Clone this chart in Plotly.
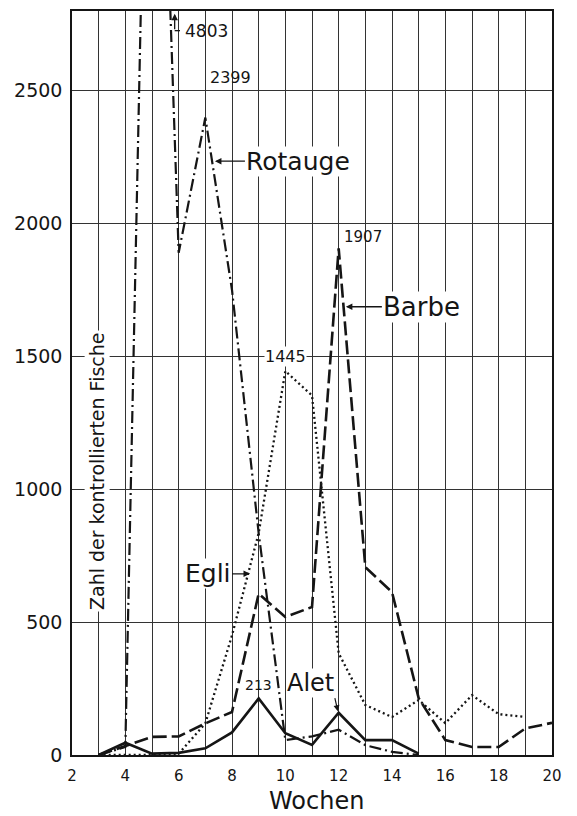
import plotly.graph_objects as go

# ---------------- data ----------------
rotauge_weeks = [3, 4, 5, 6, 7, 8, 9, 10, 11, 12, 13, 14, 15]
rotauge = [0, 30, 4803, 1890, 2399, 1750, 835, 56, 70, 95, 37, 12, 0]

barbe_weeks = [3, 4, 5, 6, 7, 8, 9, 10, 11, 12, 13, 14, 15, 16, 17, 18, 19, 20]
barbe = [0, 35, 68, 70, 119, 162, 607, 519, 557, 1907, 707, 613, 214, 56, 30, 30, 100, 121]

egli_weeks = [3, 4, 5, 6, 7, 8, 9, 10, 11, 12, 13, 14, 15, 16, 17, 18, 19]
egli = [0, 0, 0, 5, 119, 450, 835, 1445, 1353, 383, 188, 143, 207, 120, 225, 154, 143]

alet_weeks = [3, 4, 5, 6, 7, 8, 9, 10, 11, 12, 13, 14, 15]
alet = [0, 46, 5, 8, 25, 85, 213, 82, 38, 159, 56, 56, 5]

x_tickvals = list(range(2, 21))
x_ticktext = [str(v) if v % 2 == 0 else "" for v in x_tickvals]
y_tickvals = [0, 500, 1000, 1500, 2000, 2500]
y_ticktext = ["0", "500", "1000", "1500", "2000", "2500"]

FONT = "DejaVu Sans"
INK = "#151515"

fig = go.Figure()

fig.add_trace(go.Scatter(x=rotauge_weeks, y=rotauge, mode="lines", name="Rotauge",
                         line=dict(color=INK, width=2.2, dash="12px,4px,2px,4px")))
fig.add_trace(go.Scatter(x=barbe_weeks, y=barbe, mode="lines", name="Barbe",
                         line=dict(color=INK, width=2.6, dash="14px,5px")))
fig.add_trace(go.Scatter(x=egli_weeks, y=egli, mode="lines", name="Egli",
                         line=dict(color=INK, width=2.3, dash="2px,3px")))
fig.add_trace(go.Scatter(x=alet_weeks, y=alet, mode="lines", name="Alet",
                         line=dict(color=INK, width=2.6)))

ann = []
# peak of Rotauge off the chart
ann.append(dict(x=5.85, y=2790, xref="x", yref="y", text="", showarrow=True,
                ax=0, ay=17, arrowhead=2, arrowsize=1, arrowwidth=1.3, arrowcolor=INK))
ann.append(dict(x=6.17, y=2726, xref="x", yref="y", text="4803", showarrow=False,
                xanchor="left", yanchor="middle", font=dict(family=FONT, size=17, color=INK)))
ann.append(dict(x=7.925, y=2550, xref="x", yref="y", text="2399", showarrow=False,
                font=dict(family=FONT, size=16, color=INK)))
ann.append(dict(x=7.36, y=2235, xref="x", yref="y", text="Rotauge", showarrow=True,
                ax=30, ay=0, xanchor="left", yanchor="middle", arrowhead=2, arrowsize=1,
                arrowwidth=1.3, arrowcolor=INK, bgcolor="white", borderpad=0,
                font=dict(family=FONT, size=25, color=INK)))
ann.append(dict(x=12.91, y=1950, xref="x", yref="y", text="1907", showarrow=False,
                font=dict(family=FONT, size=15, color=INK)))
ann.append(dict(x=12.27, y=1687, xref="x", yref="y", text="Barbe", showarrow=True,
                ax=36, ay=0, xanchor="left", yanchor="middle", arrowhead=2, arrowsize=1,
                arrowwidth=1.3, arrowcolor=INK, bgcolor="white", borderpad=0,
                font=dict(family=FONT, size=26, color=INK)))
ann.append(dict(x=9.99, y=1500, xref="x", yref="y", text="1445", showarrow=False,
                bgcolor="white", borderpad=0, font=dict(family=FONT, size=16, color=INK)))
ann.append(dict(x=8.675, y=682, xref="x", yref="y", text="Egli", showarrow=True,
                ax=-18, ay=0, xanchor="right", yanchor="middle", arrowhead=2, arrowsize=1,
                arrowwidth=1.3, arrowcolor=INK, bgcolor="white", borderpad=0,
                font=dict(family=FONT, size=25, color=INK)))
ann.append(dict(x=9.01, y=262, xref="x", yref="y", text="213", showarrow=False,
                font=dict(family=FONT, size=14, color=INK)))
ann.append(dict(x=11.97, y=165, xref="x", yref="y", text="Alet", showarrow=True,
                ax=-3, ay=-13, xanchor="right", yanchor="bottom", arrowhead=2, arrowsize=1,
                arrowwidth=1.2, arrowcolor=INK, bgcolor="white", borderpad=0,
                font=dict(family=FONT, size=24, color=INK)))
# axis titles
ann.append(dict(x=2.94, y=1069, xref="x", yref="y", text="Zahl der kontrollierten Fische",
                textangle=-90, showarrow=False, bgcolor="white", borderpad=1,
                font=dict(family=FONT, size=19, color=INK)))
ann.append(dict(x=0.5104, y=-0.062, xref="paper", yref="paper", text="Wochen",
                showarrow=False, yanchor="middle", font=dict(family=FONT, size=24, color=INK)))

# the page adds an 8 px body margin; the figure is sized so the plot area lands
# where the reference has it (x 72-552, y 9-755) and nothing overflows the window
fig.update_layout(
    width=569, height=808,
    margin=dict(l=64, r=25, t=1, b=61),
    paper_bgcolor="white", plot_bgcolor="white",
    showlegend=False,
    font=dict(family=FONT, color=INK),
    annotations=ann,
    shapes=[dict(type="line", xref="x", yref="y", x0=5.85, x1=6.05, y0=2726, y1=2726,
                 line=dict(color=INK, width=1.3))],
)
fig.update_xaxes(range=[2, 20], tickmode="array", tickvals=x_tickvals, ticktext=x_ticktext,
                 showgrid=True, gridcolor="#333", gridwidth=1, zeroline=False,
                 showline=True, mirror=True, linecolor=INK, linewidth=1.5,
                 ticks="", ticklabelstandoff=6, tickfont=dict(family=FONT, size=15, color=INK))
fig.update_yaxes(range=[0, 2800], tickmode="array", tickvals=y_tickvals, ticktext=y_ticktext,
                 showgrid=True, gridcolor="#333", gridwidth=1, zeroline=False,
                 showline=True, mirror=True, linecolor=INK, linewidth=1.5,
                 ticks="", ticklabelstandoff=4, tickfont=dict(family=FONT, size=19, color=INK))

fig.write_html("out.html")
